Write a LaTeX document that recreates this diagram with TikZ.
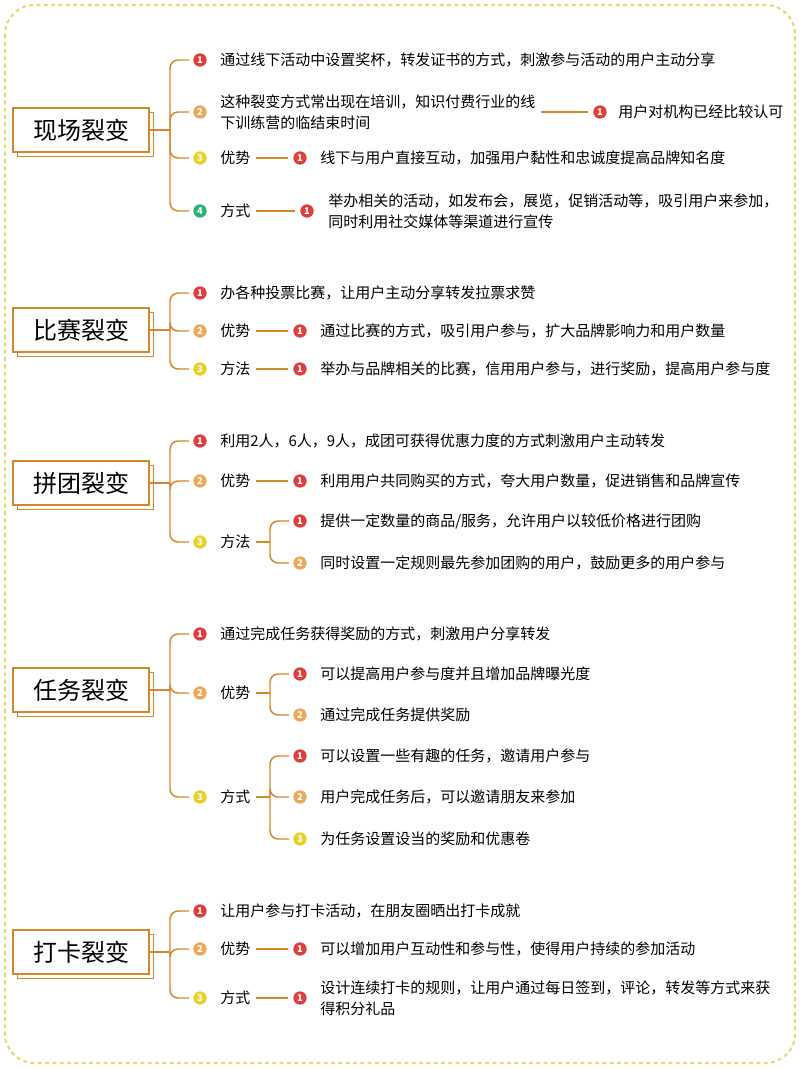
\documentclass[tikz,border=0pt]{standalone}
\usepackage{fontspec}
\setmainfont{Noto Sans CJK SC}
\usetikzlibrary{shadows}
\definecolor{lineor}{RGB}{214,134,42}
\definecolor{cred}{RGB}{222,62,62}
\definecolor{corg}{RGB}{236,168,88}
\definecolor{cyel}{RGB}{232,208,36}
\definecolor{cgrn}{RGB}{44,176,122}
\definecolor{frame}{RGB}{236,214,120}
\tikzset{
  root/.style={draw=lineor, line width=1pt, fill=white, minimum width=102pt, minimum height=33pt,
    font=\fontsize{18}{20}\selectfont,
    copy shadow={shadow xshift=3.5pt, shadow yshift=-3.5pt, draw=lineor, fill=white, line width=1pt}},
  dot/.style={circle, inner sep=0pt, minimum size=10pt, text=white, font=\bfseries\fontsize{7}{7}\selectfont},
  txt/.style={anchor=west, align=left, inner sep=0pt, font=\fontsize{11.25}{15.75}\selectfont},
  br/.style={draw=lineor, line width=1.1pt, rounded corners=6pt, shorten >=3pt},
  link/.style={draw=lineor, line width=1.1pt, shorten <=4pt, shorten >=4pt}
}
\newcommand\numdot[4]{\node[dot,fill=#3] (#1) at (#2) {#4};}
\begin{document}
\begin{tikzpicture}[x=0.75pt,y=-0.75pt]
\useasboundingbox (0,0) rectangle (800,1069);
\draw[frame, line width=1.6pt, dash pattern=on 3pt off 2.5pt, rounded corners=22pt] (5,5) rectangle (795,1063);

% 现场裂变
\node[root] (r1) at (81,130) {现场裂变};
\coordinate (j1) at (170,130);
\draw[lineor, line width=1.1pt] (r1.east) -- (j1);
\numdot{a1}{200,60}{cred}{1}
\numdot{a2}{200,112}{corg}{2}
\numdot{a3}{200,158}{cyel}{3}
\numdot{a4}{200,211}{cgrn}{4}
\foreach \n in {a1,a2,a3,a4} \draw[br] (j1) |- (\n.west);
\node[txt] (ta1) at (220,60) {通过线下活动中设置奖杯，转发证书的方式，刺激参与活动的用户主动分享};
\node[txt] (ta2) at (220,112) {这种裂变方式常出现在培训，知识付费行业的线\\下训练营的临结束时间};
\numdot{a21}{600,112}{cred}{1}
\draw[link] (ta2.east) -- (a21.west);
\node[txt] (ta21) at (618,112) {用户对机构已经比较认可};
\node[txt] (ta3) at (220,158) {优势};
\numdot{a31}{300,158}{cred}{1}
\draw[link] (ta3.east) -- (a31.west);
\node[txt] (ta31) at (320,158) {线下与用户直接互动，加强用户黏性和忠诚度提高品牌知名度};
\node[txt] (ta4) at (220,211) {方式};
\numdot{a41}{307,211}{cred}{1}
\draw[link] (ta4.east) -- (a41.west);
\node[txt] (ta41) at (328,211) {举办相关的活动，如发布会，展览，促销活动等，吸引用户来参加，\\同时利用社交媒体等渠道进行宣传};

% 比赛裂变
\node[root] (r2) at (81,330) {比赛裂变};
\coordinate (j2) at (170,330);
\draw[lineor, line width=1.1pt] (r2.east) -- (j2);
\numdot{b1}{200,293}{cred}{1}
\numdot{b2}{200,331}{corg}{2}
\numdot{b3}{200,369}{cyel}{3}
\foreach \n in {b1,b2,b3} \draw[br] (j2) |- (\n.west);
\node[txt] (tb1) at (220,293) {办各种投票比赛，让用户主动分享转发拉票求赞};
\node[txt] (tb2) at (220,331) {优势};
\numdot{b21}{300,331}{cred}{1}
\draw[link] (tb2.east) -- (b21.west);
\node[txt] (tb21) at (320,331) {通过比赛的方式，吸引用户参与，扩大品牌影响力和用户数量};
\node[txt] (tb3) at (220,369) {方法};
\numdot{b31}{300,369}{cred}{1}
\draw[link] (tb3.east) -- (b31.west);
\node[txt] (tb31) at (320,369) {举办与品牌相关的比赛，信用用户参与，进行奖励，提高用户参与度};

% 拼团裂变
\node[root] (r3) at (81,483) {拼团裂变};
\coordinate (j3) at (170,483);
\draw[lineor, line width=1.1pt] (r3.east) -- (j3);
\numdot{c1}{200,441}{cred}{1}
\numdot{c2}{200,481}{corg}{2}
\numdot{c3}{200,542}{cyel}{3}
\foreach \n in {c1,c2,c3} \draw[br] (j3) |- (\n.west);
\node[txt] (tc1) at (220,441) {利用2人，6人，9人，成团可获得优惠力度的方式刺激用户主动转发};
\node[txt] (tc2) at (220,481) {优势};
\numdot{c21}{300,481}{cred}{1}
\draw[link] (tc2.east) -- (c21.west);
\node[txt] (tc21) at (320,481) {利用用户共同购买的方式，夸大用户数量，促进销售和品牌宣传};
\node[txt] (tc3) at (220,542) {方法};
\coordinate (k3) at (270,542);
\draw[lineor, line width=1.1pt] (tc3.east) ++(4pt,0) -- (k3);
\numdot{c31}{300,521}{cred}{1}
\numdot{c32}{300,563}{corg}{2}
\foreach \n in {c31,c32} \draw[br] (k3) |- (\n.west);
\node[txt] (tc31) at (320,521) {提供一定数量的商品/服务，允许用户以较低价格进行团购};
\node[txt] (tc32) at (320,563) {同时设置一定规则最先参加团购的用户，鼓励更多的用户参与};

% 任务裂变
\node[root] (r4) at (81,690) {任务裂变};
\coordinate (j4) at (170,690);
\draw[lineor, line width=1.1pt] (r4.east) -- (j4);
\numdot{d1}{200,634}{cred}{1}
\numdot{d2}{200,693}{corg}{2}
\numdot{d3}{200,797}{cyel}{3}
\foreach \n in {d1,d2,d3} \draw[br] (j4) |- (\n.west);
\node[txt] (td1) at (220,634) {通过完成任务获得奖励的方式，刺激用户分享转发};
\node[txt] (td2) at (220,693) {优势};
\coordinate (k4) at (270,693);
\draw[lineor, line width=1.1pt] (td2.east) ++(4pt,0) -- (k4);
\numdot{d21}{300,674}{cred}{1}
\numdot{d22}{300,715}{corg}{2}
\foreach \n in {d21,d22} \draw[br] (k4) |- (\n.west);
\node[txt] (td21) at (320,674) {可以提高用户参与度并且增加品牌曝光度};
\node[txt] (td22) at (320,715) {通过完成任务提供奖励};
\node[txt] (td3) at (220,797) {方式};
\coordinate (m4) at (270,797);
\draw[lineor, line width=1.1pt] (td3.east) ++(4pt,0) -- (m4);
\numdot{d31}{300,756}{cred}{1}
\numdot{d32}{300,797}{corg}{2}
\numdot{d33}{300,839}{cyel}{3}
\foreach \n in {d31,d32,d33} \draw[br] (m4) |- (\n.west);
\node[txt] (td31) at (320,756) {可以设置一些有趣的任务，邀请用户参与};
\node[txt] (td32) at (320,797) {用户完成任务后，可以邀请朋友来参加};
\node[txt] (td33) at (320,839) {为任务设置设当的奖励和优惠卷};

% 打卡裂变
\node[root] (r5) at (81,952) {打卡裂变};
\coordinate (j5) at (170,952);
\draw[lineor, line width=1.1pt] (r5.east) -- (j5);
\numdot{e1}{200,911}{cred}{1}
\numdot{e2}{200,949}{corg}{2}
\numdot{e3}{200,998}{cyel}{3}
\foreach \n in {e1,e2,e3} \draw[br] (j5) |- (\n.west);
\node[txt] (te1) at (220,911) {让用户参与打卡活动，在朋友圈晒出打卡成就};
\node[txt] (te2) at (220,949) {优势};
\numdot{e21}{300,949}{cred}{1}
\draw[link] (te2.east) -- (e21.west);
\node[txt] (te21) at (320,949) {可以增加用户互动性和参与性，使得用户持续的参加活动};
\node[txt] (te3) at (220,998) {方式};
\numdot{e31}{300,998}{cred}{1}
\draw[link] (te3.east) -- (e31.west);
\node[txt] (te31) at (320,998) {设计连续打卡的规则，让用户通过每日签到，评论，转发等方式来获\\得积分礼品};
\end{tikzpicture}
\end{document}
